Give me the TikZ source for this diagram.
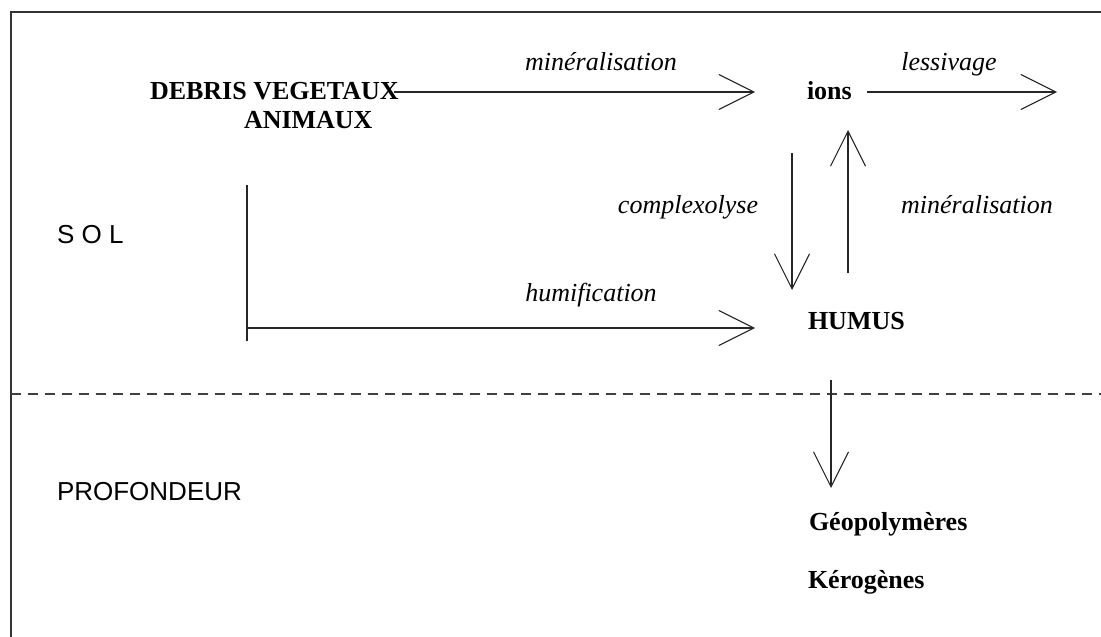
\documentclass[tikz,border=0pt]{standalone}
\usepackage{fontspec}
\setmainfont{Liberation Serif}
\setsansfont{Liberation Sans}
\usetikzlibrary{arrows.meta}
\begin{document}
\begin{tikzpicture}[x=1pt,y=-1pt,
  every node/.style={inner sep=0pt,outer sep=0pt},
  lbl/.style={font=\fontsize{26}{30}\selectfont\itshape,anchor=base},
  bold/.style={font=\fontsize{26}{30}\selectfont\bfseries,anchor=base west},
  zone/.style={font=\fontsize{26}{30}\selectfont\sffamily,anchor=base west},
  ln/.style={line width=1.8pt,black!85},
  arr/.style={ln,-{Straight Barb[length=35pt,width=35pt,line width=1.1pt]}}]
\useasboundingbox (0,0) rectangle (1101,637);
% frame
\draw[line width=2pt,black!80] (10.7,637) -- (10.7,12) -- (1101,12);
\draw[line width=1.5pt,black!75,dash pattern=on 10pt off 7pt] (10.7,394) -- (1101,394);
% nodes
\node[bold] (debris) at (150,99) {DEBRIS VEGETAUX};
\node[bold] (animaux) at (244,128) {ANIMAUX};
\node[bold] (ions) at (807,99) {ions};
\node[bold] (humus) at (808,329) {HUMUS};
\node[bold] (geo) at (809,530) {Géopolymères};
\node[bold] (kero) at (808,588) {Kérogènes};
\node[zone] (sol) at (57,243) {S O L};
\node[zone] (prof) at (57,500) {PROFONDEUR};
% labels
\node[lbl] (lmin1) at (601,70) {minéralisation};
\node[lbl] (lless) at (949,70) {lessivage};
\node[lbl] (lcomp) at (688,213) {complexolyse};
\node[lbl] (lmin2) at (977,213) {minéralisation};
\node[lbl] (lhum) at (591,301) {humification};
% coordinates
\coordinate (lessend) at (1057,92);
\coordinate (cdtop) at (792,153);
\coordinate (cdbot) at (792,290);
\coordinate (cubot) at (848,273);
\coordinate (cutop) at (848,130);
\coordinate (hvtop) at (247,185);
\coordinate (hvbot) at (247,341);
\coordinate (hh) at (247,328);
\coordinate (hend) at (755,328);
\coordinate (ptop) at (831,380);
\coordinate (pbot) at (831,488);
% connectors
\draw[arr,shorten <=-5pt,shorten >=52pt] (debris.east |- 0,92) -- (ions.west |- 0,92);
\draw[arr,shorten <=15pt] (ions.east |- lessend) -- (lessend);
\draw[arr] (cdtop) -- (cdbot);
\draw[arr] (cubot) -- (cutop);
\draw[ln] (hvtop) -- (hvbot);
\draw[arr] (hh) -- (hend);
\draw[arr] (ptop) -- (pbot);
\end{tikzpicture}
\end{document}
